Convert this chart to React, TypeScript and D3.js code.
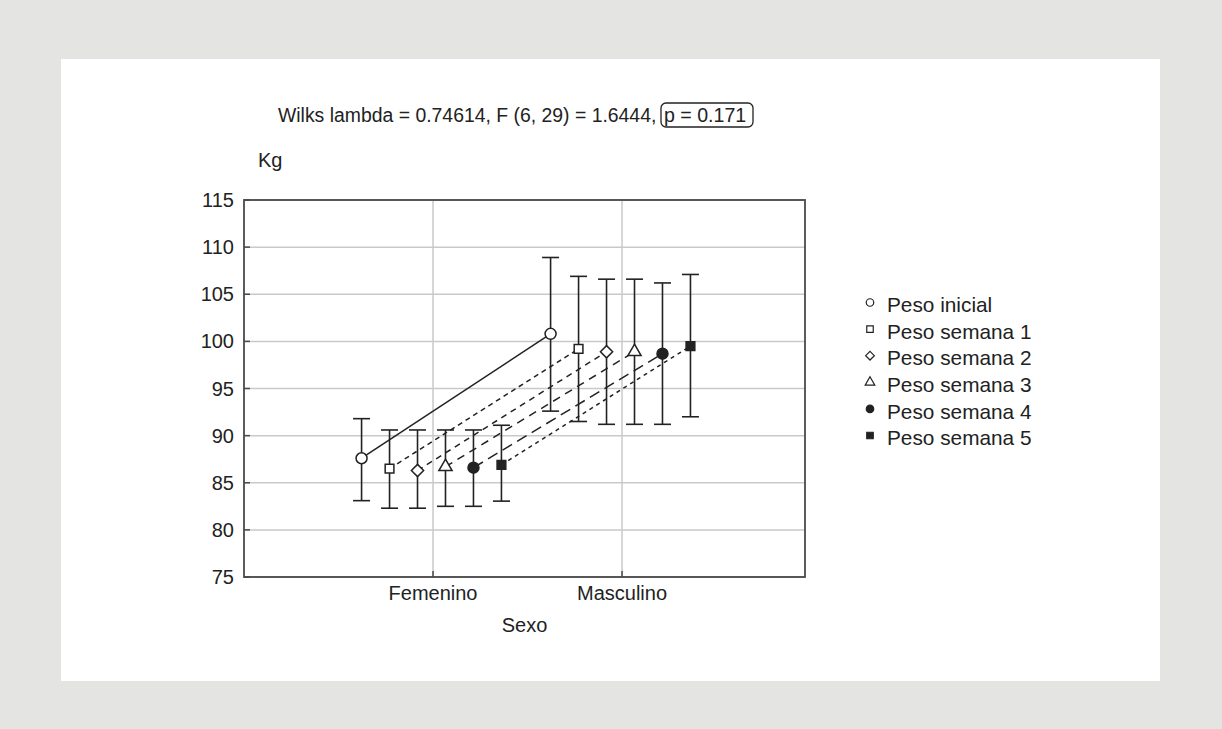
import React from "react";
import * as d3 from "d3";

const categories = ["Femenino", "Masculino"];
const seriesNames = [
  "Peso inicial",
  "Peso semana 1",
  "Peso semana 2",
  "Peso semana 3",
  "Peso semana 4",
  "Peso semana 5",
];
const meanFem = [87.6, 86.5, 86.3, 86.7, 86.6, 86.9];
const lowFem = [83.1, 82.3, 82.3, 82.5, 82.5, 83.05];
const highFem = [91.8, 90.6, 90.6, 90.6, 90.6, 91.1];
const meanMas = [100.8, 99.2, 98.9, 98.9, 98.7, 99.5];
const lowMas = [92.6, 91.5, 91.2, 91.2, 91.2, 92.0];
const highMas = [108.9, 106.9, 106.6, 106.6, 106.2, 107.1];
const yTicks = [75, 80, 85, 90, 95, 100, 105, 110, 115];
const titleText = "Wilks lambda = 0.74614, F (6, 29) = 1.6444,";
const pText = "p = 0.171";

const symbolTypes = ["circle", "square", "diamond", "triangle", "circle", "square"];
const symbolFilled = [false, false, false, false, true, true];
const dashes = [null, "5,4", "6,5", "8,6", "11,6", "4,4"];

const FONT = "'Liberation Sans', Arial, Helvetica, sans-serif";
const INK = "#222";
const AXIS = "#4a4a4a";
const GRID = "#c9c9c9";
const FS = 20;

function symbolPath(type: string, size: number) {
  const t =
    type === "circle"
      ? d3.symbolCircle
      : type === "square"
      ? d3.symbolSquare
      : type === "diamond"
      ? d3.symbolDiamond2
      : d3.symbolTriangle;
  return d3.symbol(t, size)();
}

export default function App() {
  const W = 1222;
  const H = 729;
  const plot = { left: 244, right: 805, top: 200, bottom: 577 };
  const x = d3.scaleLinear().domain([0, 2.968]).range([plot.left, plot.right]);
  const y = d3.scaleLinear().domain([75, 115]).range([plot.bottom, plot.top]);
  const offsets = seriesNames.map((_, i) => -0.378 + 0.148 * i);
  const catPos = [1, 2];
  const capHalf = 8.5;

  const groups = [
    { mean: meanFem, low: lowFem, high: highFem },
    { mean: meanMas, low: lowMas, high: highMas },
  ];

  const markerSize = (type: string) =>
    type === "circle" ? 95 : type === "square" ? 76 : type === "diamond" ? 95 : 75;
  const legendSize = (type: string) =>
    type === "circle" ? 44 : type === "square" ? 42 : type === "diamond" ? 48 : 40;

  const line = d3
    .line<[number, number]>()
    .x((d) => d[0])
    .y((d) => d[1]);

  return (
    <svg
      width={W}
      height={H}
      style={{ position: "absolute", left: 0, top: 0, display: "block" }}
      fontFamily={FONT}
    >
      <rect x={0} y={0} width={W} height={H} fill="#e4e4e2" />
      <rect x={61} y={59} width={1099} height={622} fill="#ffffff" />

      {/* grid */}
      {yTicks.map((t) => (
        <line
          key={"gy" + t}
          x1={plot.left}
          x2={plot.right}
          y1={y(t)}
          y2={y(t)}
          stroke={GRID}
          strokeWidth={1.5}
        />
      ))}
      {catPos.map((c) => (
        <line
          key={"gx" + c}
          x1={x(c)}
          x2={x(c)}
          y1={plot.top}
          y2={plot.bottom}
          stroke={GRID}
          strokeWidth={1.5}
        />
      ))}

      {/* frame */}
      <rect
        x={plot.left}
        y={plot.top}
        width={plot.right - plot.left}
        height={plot.bottom - plot.top}
        fill="none"
        stroke={AXIS}
        strokeWidth={1.8}
      />
      {yTicks.map((t) => (
        <line
          key={"ty" + t}
          x1={plot.left}
          x2={plot.left + 6}
          y1={y(t)}
          y2={y(t)}
          stroke={AXIS}
          strokeWidth={1.5}
        />
      ))}
      {catPos.map((c) => (
        <line
          key={"tx" + c}
          x1={x(c)}
          x2={x(c)}
          y1={plot.bottom}
          y2={plot.bottom - 6}
          stroke={AXIS}
          strokeWidth={1.5}
        />
      ))}

      {/* tick labels */}
      {yTicks.map((t) => (
        <text
          key={"ly" + t}
          x={234}
          y={y(t)}
          dy="0.35em"
          textAnchor="end"
          fontSize={FS}
          fill={INK}
        >
          {t}
        </text>
      ))}
      {categories.map((c, i) => (
        <text
          key={"lx" + c}
          x={x(catPos[i])}
          y={593}
          dy="0.35em"
          textAnchor="middle"
          fontSize={FS}
          fill={INK}
        >
          {c}
        </text>
      ))}
      <text x={(plot.left + plot.right) / 2} y={625} dy="0.35em" textAnchor="middle" fontSize={FS} fill={INK}>
        Sexo
      </text>
      <text x={258} y={160} dy="0.35em" fontSize={FS} fill={INK}>
        Kg
      </text>

      {/* title */}
      <text x={278} y={115} dy="0.35em" fontSize={19.4} fill={INK}>
        {titleText}
      </text>
      <rect x={661} y={103} width={92} height={24} rx={5} fill="none" stroke={INK} strokeWidth={1.3} />
      <text x={664} y={115} dy="0.35em" fontSize={19.6} fill={INK}>
        {pText}
      </text>

      {/* connecting lines */}
      {seriesNames.map((s, i) => {
        const pts: [number, number][] = groups.map((g, gi) => [
          x(catPos[gi] + offsets[i]),
          y(g.mean[i]),
        ]);
        return (
          <path
            key={"ln" + s}
            d={line(pts) || ""}
            fill="none"
            stroke={INK}
            strokeWidth={1.5}
            strokeDasharray={dashes[i] || undefined}
          />
        );
      })}

      {/* error bars */}
      {groups.map((g, gi) =>
        seriesNames.map((s, i) => {
          const cx = x(catPos[gi] + offsets[i]);
          return (
            <g key={"eb" + gi + s} stroke={INK} strokeWidth={1.6}>
              <line x1={cx} x2={cx} y1={y(g.low[i])} y2={y(g.high[i])} />
              <line x1={cx - capHalf} x2={cx + capHalf} y1={y(g.low[i])} y2={y(g.low[i])} />
              <line x1={cx - capHalf} x2={cx + capHalf} y1={y(g.high[i])} y2={y(g.high[i])} />
            </g>
          );
        })
      )}

      {/* markers */}
      {groups.map((g, gi) =>
        seriesNames.map((s, i) => {
          const cx = x(catPos[gi] + offsets[i]);
          const cy = y(g.mean[i]);
          const type = symbolTypes[i];
          return (
            <path
              key={"mk" + gi + s}
              d={symbolPath(type, markerSize(type)) || ""}
              transform={`translate(${cx},${cy})`}
              fill={symbolFilled[i] ? INK : "#fff"}
              stroke={INK}
              strokeWidth={1.5}
            />
          );
        })
      )}

      {/* legend */}
      {seriesNames.map((s, i) => {
        const ly = 305 + i * 26.6;
        const type = symbolTypes[i];
        return (
          <g key={"lg" + s}>
            <path
              d={symbolPath(type, legendSize(type)) || ""}
              transform={`translate(870,${ly - 2.5})`}
              fill={symbolFilled[i] ? INK : "#fff"}
              stroke={INK}
              strokeWidth={1.2}
            />
            <text x={887} y={ly} dy="0.35em" fontSize={20.8} fill={INK}>
              {s}
            </text>
          </g>
        );
      })}
    </svg>
  );
}
